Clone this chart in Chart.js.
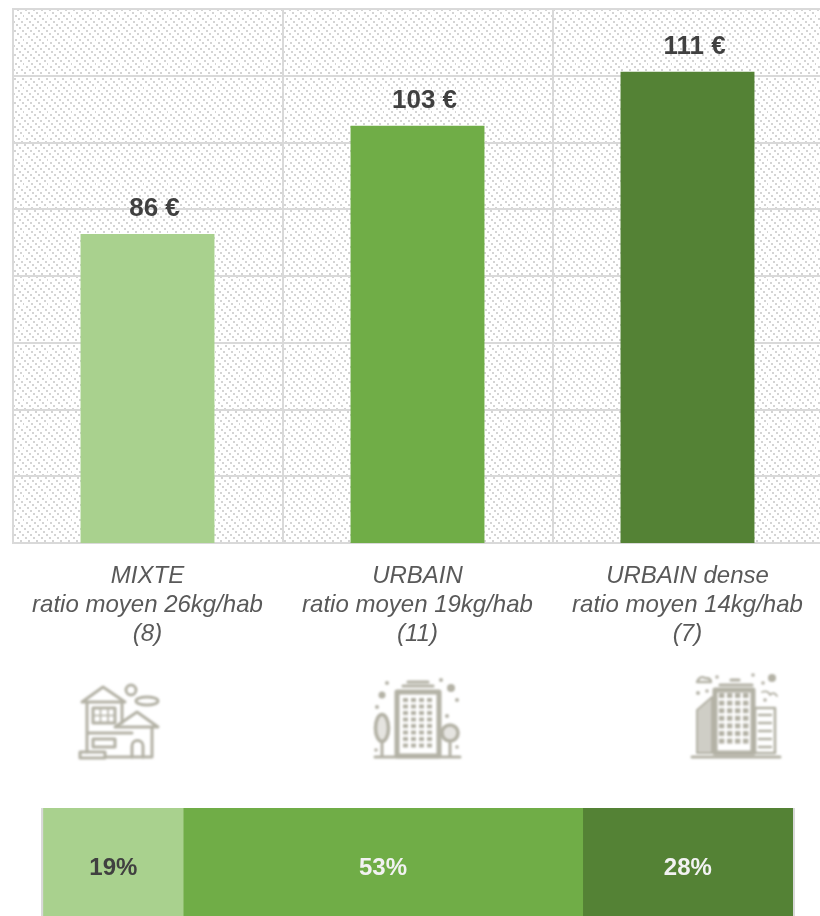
<!DOCTYPE html>
<html lang="fr">
<head>
<meta charset="utf-8">
<title>Ratio moyen par typologie</title>
<script src="https://cdn.jsdelivr.net/npm/chart.js@4"></script>
<style>
html,body{margin:0;padding:0;background:#fff;width:820px;height:916px;overflow:hidden}
#wrap{position:relative;width:820px;height:916px;overflow:hidden}
#top,#bottom,#icons{position:absolute;left:0}
#top{top:0}
#bottom{top:790px}
#icons{top:0;width:820px;height:916px;pointer-events:none}
</style>
</head>
<body>
<div id="wrap">
<canvas id="top" width="825" height="660" style="width:825px;height:660px"></canvas>
<svg id="icons" viewBox="0 0 820 916" xmlns="http://www.w3.org/2000/svg"></svg>
<canvas id="bottom" width="820" height="126" style="width:820px;height:126px"></canvas>
</div>
<script>
const categories = [
  ["MIXTE", "ratio moyen 26kg/hab", "(8)"],
  ["URBAIN", "ratio moyen 19kg/hab", "(11)"],
  ["URBAIN dense", "ratio moyen 14kg/hab", "(7)"]
];
const costValues = [86.3, 102.5, 110.6];
const colours = ["#A9D18E", "#70AD47", "#548235"];
const shareLabels = ["19%", "53%", "28%"];
const shareValues = [18.8, 53.2, 28];
const shareTextColours = ["#404040", "#F2F2F2", "#F2F2F2"];
const FONT = "'Liberation Sans', Arial, sans-serif";
const GRID = "#D9D9D9";

function hatch(ctx) {
  const t = document.createElement("canvas");
  t.width = 24; t.height = 24;
  const c = t.getContext("2d");
  c.fillStyle = "#fff"; c.fillRect(0, 0, 24, 24);
  c.fillStyle = "#D4D4D4";
  for (let k = 0; k < 3; k++) {
    for (let i = 0; i < 8; i++) {
      const x = (i * 3 + k * 8) % 24, y = i * 3;
      c.fillRect(x, y, 2, 2);
    }
  }
  return ctx.createPattern(t, "repeat");
}

const hatchPlugin = {
  id: "hatch",
  beforeDraw(chart) {
    const a = chart.chartArea, ctx = chart.ctx;
    ctx.save();
    ctx.fillStyle = hatch(ctx);
    ctx.fillRect(a.left, a.top, a.right - a.left, a.bottom - a.top);
    ctx.restore();
  }
};
const costLabels = {
  id: "costLabels",
  afterDatasetsDraw(chart) {
    const ctx = chart.ctx;
    ctx.save();
    ctx.font = "bold 26px " + FONT;
    ctx.fillStyle = "#404040";
    ctx.textAlign = "center";
    ctx.textBaseline = "middle";
    chart.getDatasetMeta(0).data.forEach((bar, i) => {
      ctx.fillText(Math.round(costValues[i]) + " €", bar.x + 7, bar.y - 25);
    });
    ctx.restore();
  }
};
new Chart(document.getElementById("top"), {
  type: "bar",
  data: {
    labels: categories,
    datasets: [{ data: costValues, backgroundColor: colours, borderWidth: 0,
      barPercentage: 0.496, categoryPercentage: 1 }]
  },
  options: {
    responsive: false, animation: false, devicePixelRatio: 1,
    layout: { padding: { left: 12.5, right: 2.5, top: 9, bottom: 0 } },
    plugins: { legend: { display: false }, tooltip: { enabled: false } },
    scales: {
      x: {
        afterFit(s) { s.height = 117; },
        border: { color: GRID, width: 2 },
        grid: { color: GRID, lineWidth: 2, drawTicks: false, offset: true },
        ticks: { color: "#595959", padding: 19, maxRotation: 0, autoSkip: false,
          font: { family: FONT, size: 24, style: "italic", lineHeight: "29px" } }
      },
      y: {
        min: 40, max: 120,
        afterFit(s) { s.width = 0; },
        border: { color: GRID, width: 2 },
        grid: { color: GRID, lineWidth: 2, drawTicks: false },
        ticks: { display: false, stepSize: 10 }
      }
    }
  },
  plugins: [hatchPlugin, costLabels]
});

const shareText = {
  id: "shareText",
  afterDatasetsDraw(chart) {
    const ctx = chart.ctx;
    ctx.save();
    ctx.font = "bold 24px " + FONT;
    ctx.textAlign = "center";
    ctx.textBaseline = "middle";
    chart.data.datasets.forEach((d, i) => {
      const bar = chart.getDatasetMeta(i).data[0];
      ctx.fillStyle = shareTextColours[i];
      ctx.fillText(shareLabels[i], (bar.x + bar.base) / 2, 78);
    });
    ctx.restore();
  }
};
new Chart(document.getElementById("bottom"), {
  type: "bar",
  data: {
    labels: ["Part"],
    datasets: shareValues.map((v, i) => ({ data: [v], backgroundColor: colours[i], borderWidth: 0,
      barPercentage: 1, categoryPercentage: 1 }))
  },
  options: {
    indexAxis: "y", responsive: false, animation: false, devicePixelRatio: 1,
    layout: { padding: { left: 42, right: 27, top: 18, bottom: 0 } },
    plugins: { legend: { display: false }, tooltip: { enabled: false } },
    scales: {
      x: { stacked: true, min: 0, max: 100,
        afterFit(s) { s.height = 0; },
        border: { display: false },
        grid: { color: GRID, lineWidth: 3, drawTicks: false },
        ticks: { display: false, stepSize: 100 } },
      y: { stacked: true,
        afterFit(s) { s.width = 0; },
        border: { display: false }, grid: { display: false }, ticks: { display: false } }
    }
  },
  plugins: [shareText]
});

/* Decorative pictograms */
const IC = "#B4B2A6";
let s = '<defs><filter id="b" x="-5%" y="-5%" width="110%" height="110%"><feGaussianBlur stdDeviation="0.9"/></filter></defs><g filter="url(#b)" fill="none" stroke="' + IC + '" stroke-width="3" stroke-linejoin="round" stroke-linecap="round">';
const L = (d, w) => s += '<path d="' + d + '"' + (w ? ' stroke-width="' + w + '"' : '') + '/>';
const R = (x, y, w, h, extra) => s += '<rect x="' + x + '" y="' + y + '" width="' + w + '" height="' + h + '" ' + (extra || '') + '/>';
const F = 'fill="' + IC + '" stroke="none"';
const C = (x, y, r, extra) => s += '<circle cx="' + x + '" cy="' + y + '" r="' + r + '" ' + (extra || '') + '/>';

/* house */
L("M82 702 L103 687 L125 702 Z");
L("M87 702 V752 M122 702 V723");
R(93, 708, 22, 15);
L("M100.5 708 V723 M108 708 V723 M93 715.5 H115", 1.6);
L("M115 727 L137 712 L158 727 Z");
L("M152 727 V757 M88 733 H132 M105 757 H152");
L("M132 757 V746 A5.5 5.5 0 0 1 143 746 V757");
R(93, 739, 22, 8);
R(80, 752, 25, 6);
C(131, 690, 5);
s += '<ellipse cx="147" cy="701" rx="11" ry="4"/>';

/* urban */
R(397, 692, 42, 64, 'stroke-width="5"');
L("M403 686 H433 M408 682 H428", 3.2);
for (let c = 0; c < 4; c++) for (let r = 0; r < 8; r++)
  R(403 + c * 8, 698 + r * 6.5, 5, 4, F);
s += '<ellipse cx="382" cy="728" rx="6.5" ry="13.5" stroke-width="3.6" fill="' + IC + '" fill-opacity="0.35"/>';
C(450, 733, 8, 'stroke-width="3.6" fill="' + IC + '" fill-opacity="0.35"');
L("M382 741 V757 M450 741 V757 M375 757 H460");
[[387,683,2],[382,695,3.5],[377,707,2],[441,680,2],[451,688,4],[457,700,2],[447,716,2],[376,750,1.8],[457,747,1.8]]
  .forEach(d => C(d[0], d[1], d[2], F));

/* dense */
R(715, 690, 38, 63, 'stroke-width="5"');
L("M720 685 H752 M731 680 H739", 3.2);
for (let c = 0; c < 4; c++) for (let r = 0; r < 7; r++)
  R(719 + c * 8, 693 + r * 7.6, 5.4, 5, F);
s += '<path d="M697 710 L712 697 V753 H697 Z" fill="#CFCEC6" stroke-width="2"/>';
R(755, 708, 20, 45, 'stroke-width="2.6"');
for (let r = 0; r < 5; r++) L("M759 " + (715 + r * 8) + " H771", 2.4);
L("M692 757 H780", 3);
L("M697 682 Q700 675 705 678 Q711 678 711 682 Z", 2.4);
C(772, 678, 4, F);
[[717,677,1.8],[753,675,1.8],[763,683,1.8],[698,693,2],[707,691,1.8],[765,700,1.8]].forEach(d => C(d[0], d[1], d[2], F));
L("M762 692 Q768 690 770 695 Q774 691 777 696", 1.8);
s += '</g>';
document.getElementById("icons").innerHTML = s;
</script>
</body>
</html>
